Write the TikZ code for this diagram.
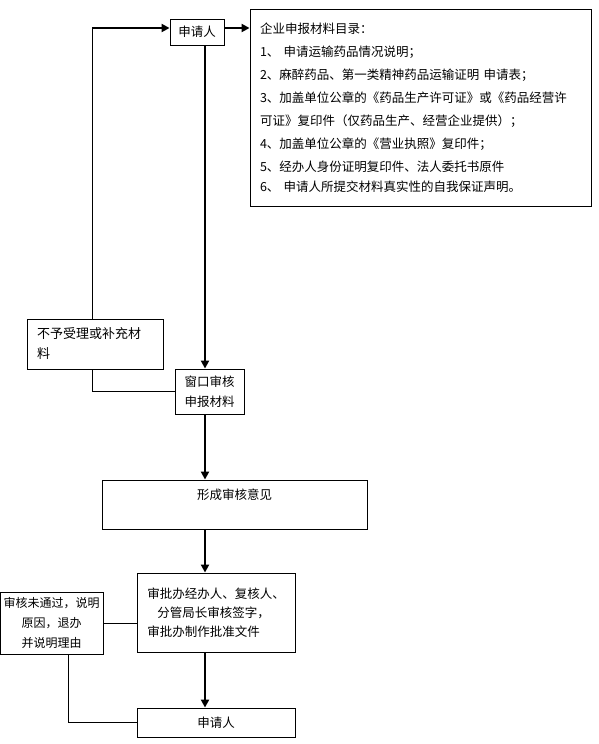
\documentclass[tikz,border=0pt]{standalone}
\usepackage{fontspec}
\setmainfont{Noto Sans CJK SC}
\usepackage{tikz}
\usetikzlibrary{positioning, arrows.meta}

\begin{document}
\begin{tikzpicture}[
    x=1pt, y=-1pt,
    font=\fontsize{12.5}{20}\selectfont,
    box/.style={
      rectangle, draw=black, line width=0.9pt,
      fill=white, align=center, inner sep=0pt
    },
    arr/.style={-{Triangle[width=8pt,length=8pt]}, line width=2.2pt},
    link/.style={line width=0.9pt}
  ]
  \fill[white] (0,0) rectangle (599,744);
  \useasboundingbox (0,0) rectangle (599,744);

  % Puntos guia
  \coordinate (corner) at (92,28);
  \coordinate (spine) at (205,0);

  % Solicitante
  \node[box, minimum width=54pt, minimum height=26pt] (app) at (197,32) {申请人};

  % Lista de materiales
  \node[box, minimum width=341pt, minimum height=197pt, align=left,
        text width=321pt, inner xsep=10pt,
        font=\fontsize{12.5}{23}\selectfont] (docs) at (420.5,107.5)
    {企业申报材料目录：\\
     1、 申请运输药品情况说明；\\
     2、麻醉药品、第一类精神药品运输证明 申请表；\\
     3、加盖单位公章的《药品生产许可证》或《药品经营许\\
     可证》复印件（仅药品生产、经营企业提供）；\\
     4、加盖单位公章的《营业执照》复印件；\\
     5、经办人身份证明复印件、法人委托书原件\\[-3pt]
     6、 申请人所提交材料真实性的自我保证声明。};

  % Rechazo / complemento
  \node[box, minimum width=136pt, minimum height=50pt, align=left,
        text width=116pt, inner xsep=10pt,
        font=\fontsize{13}{20}\selectfont] (reject) at (95,344)
    {不予受理或补充材\\料};

  % Ventanilla
  \node[box, minimum width=69pt, minimum height=45pt] (window) at (209.5,391.5)
    {窗口审核\\申报材料};

  % Dictamen
  \node[box, minimum width=265pt, minimum height=49pt,
        font=\fontsize{12.5}{16}\selectfont] (opinion) at (234.5,504.5)
    {形成审核意见\\\strut};

  % Aprobacion
  \node[box, minimum width=158pt, minimum height=79pt, align=left,
        font=\fontsize{12.5}{19}\selectfont] (approve) at (216,612.5)
    {审批办经办人、复核人、\\
     \hspace*{10pt}分管局长审核签字，\\
     审批办制作批准文件};

  % No aprobado
  \node[box, minimum width=103pt, minimum height=62pt,
        font=\fontsize{12}{20}\selectfont] (refuse) at (51.5,623)
    {审核未通过，说明\\原因，退办\\并说明理由};

  % Resultado
  \node[box, minimum width=158pt, minimum height=29pt] (result) at (216,722.5) {申请人};

  % Flujo principal
  \draw[arr] (corner) -- (corner -| app.west);
  \draw[arr] (app.east |- corner) -- (corner -| docs.west);
  \draw[arr] (app.south -| spine) -- (window.north -| spine);
  \draw[arr] (window.south -| spine) -- (opinion.north -| spine);
  \draw[arr] (opinion.south -| spine) -- (approve.north -| spine);
  \draw[arr] (approve.south -| spine) -- (result.north -| spine);

  % Retornos
  \draw[link] (reject.north -| corner) -- (corner);
  \draw[link] (reject.south -| corner) |- (window.west);
  \draw[link] (refuse.east) -- (refuse.east -| approve.west);
  \draw[link] ([xshift=16.5pt]refuse.south) |- (result.west);

\end{tikzpicture}
\end{document}
